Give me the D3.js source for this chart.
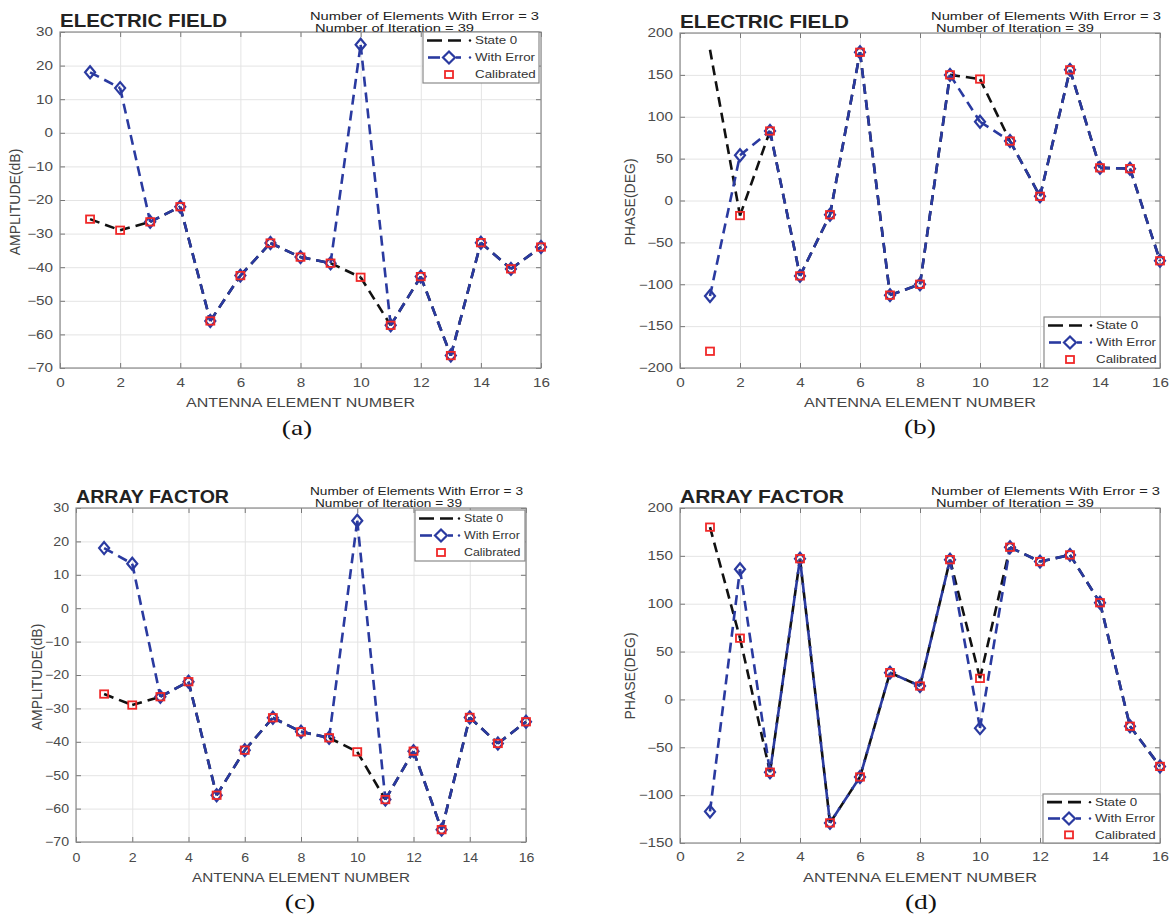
<!DOCTYPE html>
<html>
<head>
<meta charset="utf-8">
<script src="https://cdn.jsdelivr.net/npm/d3@7"></script>
<style>
  body { margin: 0; background: #fff; }
  svg text { font-family: "Liberation Sans", Arial, sans-serif; }
</style>
</head>
<body>
<div id="chart"></div>
<script>
// Antenna element numbers (x values)
const elementNumbers = [1, 2, 3, 4, 5, 6, 7, 8, 9, 10, 11, 12, 13, 14, 15, 16];

// (a) Electric field amplitude (dB)
const efAmpState0 = [-25.7, -29, -26.5, -22, -56, -42.5, -32.8, -37, -38.8, -43, -57.3, -42.8, -66.3, -32.7, -40.5, -34];
const efAmpError  = [18, 13.3, -26.5, -22, -56, -42.5, -32.8, -37, -38.8, 26.2, -57.3, -42.8, -66.3, -32.7, -40.5, -34];
const efAmpCalib  = [-25.7, -29, -26.5, -22, -56, -42.5, -32.8, -37, -38.8, -43, -57.3, -42.8, -66.3, -32.7, -40.5, -34];

// (b) Electric field phase (deg)
const efPhaseState0 = [180, -18, 83, -90, -17, 177, -113, -100, 150, 145, 71, 5, 156, 39, 38, -72];
const efPhaseError  = [-114, 54, 83, -90, -17, 177, -113, -100, 150, 94, 71, 5, 156, 39, 38, -72];
const efPhaseCalib  = [-180, -18, 83, -90, -17, 177, -113, -100, 150, 145, 71, 5, 156, 39, 38, -72];

// (c) Array factor amplitude (dB)
const afAmpState0 = [-25.7, -29, -26.5, -22, -56, -42.5, -32.8, -37, -38.8, -43, -57.3, -42.8, -66.3, -32.7, -40.5, -34];
const afAmpError  = [18, 13.3, -26.5, -22, -56, -42.5, -32.8, -37, -38.8, 26.2, -57.3, -42.8, -66.3, -32.7, -40.5, -34];
const afAmpCalib  = [-25.7, -29, -26.5, -22, -56, -42.5, -32.8, -37, -38.8, -43, -57.3, -42.8, -66.3, -32.7, -40.5, -34];

// (d) Array factor phase (deg)
const afPhaseState0 = [180, 64, -76, 147, -129, -81, 28, 14, 146, 22, 159, 144, 151, 101, -28, -70];
const afPhaseError  = [-117, 136, -76, 147, -129, -81, 28, 14, 146, -30, 159, 144, 151, 101, -28, -70];
const afPhaseCalib  = [180, 64, -76, 147, -129, -81, 28, 14, 146, 22, 159, 144, 151, 101, -28, -70];

// Tick values
const xTicks = [0, 2, 4, 6, 8, 10, 12, 14, 16];
const ampTicks = [-70, -60, -50, -40, -30, -20, -10, 0, 10, 20, 30];
const efPhaseTicks = [-200, -150, -100, -50, 0, 50, 100, 150, 200];
const afPhaseTicks = [-150, -100, -50, 0, 50, 100, 150, 200];

const seriesNames = ["State 0", "With Error", "Calibrated"];
const infoLines = ["Number of Elements With Error = 3", "Number of Iteration = 39"];

const blue = "#2a3aa0";
const red = "#f02828";

const svg = d3.select("#chart")
  .append("svg")
  .attr("width", 1171)
  .attr("height", 917);

// the figure is stretched sideways, so widen texts a bit
function widen(sel, k) {
  sel.each(function () {
    const len = this.getComputedTextLength();
    d3.select(this).attr("textLength", len * k).attr("lengthAdjust", "spacingAndGlyphs");
  });
}
function fitTo(sel, w) {
  sel.attr("textLength", w).attr("lengthAdjust", "spacingAndGlyphs");
}

// Panel layout
const panels = [
  { tag: "(a)", title: "ELECTRIC FIELD", ylabel: "AMPLITUDE(dB)",
    s0: efAmpState0, err: efAmpError, cal: efAmpCalib, yDomain: [-70, 30], yTicks: ampTicks,
    left: 60, right: 541, top: 32, bottom: 368, k: 1.27, xPad: 10,
    titleW: 167, titleY: 27, info: [310, 229, 159, 19.5, 32], xlabW: 229, xlabY: 406.5,
    ylab: [15, 202], tagPos: [297, 435],
    legend: { x: 423, y: 32, w: 116, h: 51 }, mixSegs: [] },
  { tag: "(b)", title: "ELECTRIC FIELD", ylabel: "PHASE(DEG)",
    s0: efPhaseState0, err: efPhaseError, cal: efPhaseCalib, yDomain: [-200, 200], yTicks: efPhaseTicks,
    left: 680, right: 1160, top: 33, bottom: 368, k: 1.27, xPad: 10,
    titleW: 169, titleY: 27.5, info: [931, 230, 158, 19.5, 32], xlabW: 232, xlabY: 406.5,
    ylab: [630, 202], tagPos: [920, 434],
    legend: { x: 1044, y: 317, w: 116, h: 51 }, mixSegs: [] },
  { tag: "(c)", title: "ARRAY FACTOR", ylabel: "AMPLITUDE(dB)",
    s0: afAmpState0, err: afAmpError, cal: afAmpCalib, yDomain: [-70, 30], yTicks: ampTicks,
    left: 76, right: 526, top: 508, bottom: 842, k: 1.18, xPad: 11,
    titleW: 153, titleY: 503, info: [310, 213, 147, 494.5, 507], xlabW: 218, xlabY: 881.5,
    ylab: [37, 677], tagPos: [300, 909],
    legend: { x: 415, y: 510, w: 110, h: 51 }, mixSegs: [] },
  { tag: "(d)", title: "ARRAY FACTOR", ylabel: "PHASE(DEG)",
    s0: afPhaseState0, err: afPhaseError, cal: afPhaseCalib, yDomain: [-150, 200], yTicks: afPhaseTicks,
    left: 680, right: 1160, top: 508, bottom: 843, k: 1.27, xPad: 9.5,
    titleW: 164, titleY: 503, info: [931, 229, 158, 494.5, 507], xlabW: 234, xlabY: 881.5,
    ylab: [630, 676], tagPos: [921, 909],
    legend: { x: 1043, y: 794, w: 117, h: 49 }, mixSegs: [3, 4, 5, 6, 7, 8] }
];

const diamond = "M0,-6L5,0L0,6L-5,0Z";

panels.forEach(p => {
  const x = d3.scaleLinear().domain([0, 16]).range([p.left, p.right]);
  const y = d3.scaleLinear().domain(p.yDomain).range([p.bottom, p.top]);
  const w = p.right - p.left;
  const h = p.bottom - p.top;
  const g = svg.append("g");

  // Grid lines
  g.append("g")
    .attr("transform", `translate(0,${p.bottom})`)
    .call(d3.axisBottom(x).tickValues(xTicks).tickSize(-h).tickFormat(""))
    .call(s => s.select(".domain").remove())
    .call(s => s.selectAll("line").attr("stroke", "#e4e4e4"));
  g.append("g")
    .attr("transform", `translate(${p.left},0)`)
    .call(d3.axisLeft(y).tickValues(p.yTicks).tickSize(-w).tickFormat(""))
    .call(s => s.select(".domain").remove())
    .call(s => s.selectAll("line").attr("stroke", "#e4e4e4"));

  // Axes with inner ticks on all four sides
  const xAxis = g.append("g")
    .attr("transform", `translate(0,${p.bottom})`)
    .call(d3.axisBottom(x).tickValues(xTicks).tickSizeInner(-5).tickSizeOuter(0).tickPadding(p.xPad));
  const yAxis = g.append("g")
    .attr("transform", `translate(${p.left},0)`)
    .call(d3.axisLeft(y).tickValues(p.yTicks).tickSizeInner(-5).tickSizeOuter(0).tickPadding(7));
  const topAxis = g.append("g")
    .attr("transform", `translate(0,${p.top})`)
    .call(d3.axisTop(x).tickValues(xTicks).tickSizeInner(-5).tickSizeOuter(0).tickFormat(""));
  const rightAxis = g.append("g")
    .attr("transform", `translate(${p.right},0)`)
    .call(d3.axisRight(y).tickValues(p.yTicks).tickSizeInner(-5).tickSizeOuter(0).tickFormat(""));
  [xAxis, yAxis, topAxis, rightAxis].forEach(a => {
    a.select(".domain").remove();
    a.selectAll(".tick line").attr("stroke", "#777");
  });
  [xAxis, yAxis].forEach(a => {
    a.selectAll("text")
      .attr("font-size", "12px").attr("fill", "#4a4a4a")
      .attr("font-family", "Liberation Sans, Arial, sans-serif");
    widen(a.selectAll("text"), p.k);
  });

  // Box
  g.append("rect")
    .attr("x", p.left).attr("y", p.top).attr("width", w).attr("height", h)
    .attr("fill", "none").attr("stroke", "#8a8a8a").attr("stroke-width", 1.2);

  // Lines drawn segment by segment, like separate dash phases
  const segs = arr => arr.slice(1).map((v, i) => ({ i: i, x1: x(elementNumbers[i]), y1: y(arr[i]), x2: x(elementNumbers[i + 1]), y2: y(v) }));

  g.selectAll(".s0seg")
    .data(segs(p.s0))
    .enter()
    .append("line")
    .attr("x1", d => d.x1).attr("y1", d => d.y1).attr("x2", d => d.x2).attr("y2", d => d.y2)
    .attr("stroke", "#111").attr("stroke-width", 2.6)
    .attr("stroke-dasharray", "10,6");

  g.selectAll(".errseg")
    .data(segs(p.err))
    .enter()
    .append("line")
    .attr("x1", d => d.x1).attr("y1", d => d.y1).attr("x2", d => d.x2).attr("y2", d => d.y2)
    .attr("stroke", blue).attr("stroke-width", 2.6)
    .attr("stroke-dasharray", "10,6")
    .attr("stroke-dashoffset", d => p.mixSegs.includes(d.i + 1) ? 8 : 0);

  // With Error diamonds
  g.selectAll(".dia")
    .data(p.err)
    .enter()
    .append("path")
    .attr("d", diamond)
    .attr("transform", (d, i) => `translate(${x(elementNumbers[i])},${y(d)})`)
    .attr("fill", "none").attr("stroke", blue).attr("stroke-width", 2.2);

  // Calibrated squares
  g.selectAll(".sq")
    .data(p.cal)
    .enter()
    .append("rect")
    .attr("x", (d, i) => x(elementNumbers[i]) - 4)
    .attr("y", d => y(d) - 3.7)
    .attr("width", 8).attr("height", 7.4)
    .attr("fill", "none").attr("stroke", red).attr("stroke-width", 1.8);

  // Title
  g.append("text")
    .attr("x", p.left).attr("y", p.titleY)
    .attr("font-size", "17.5px").attr("font-weight", "bold").attr("fill", "#222")
    .text(p.title)
    .call(fitTo, p.titleW);

  // Info text
  g.append("text")
    .attr("x", p.info[0]).attr("y", p.info[3])
    .attr("font-size", "11px").attr("fill", "#222")
    .text(infoLines[0])
    .call(fitTo, p.info[1]);
  g.append("text")
    .attr("x", p.info[0] + 5).attr("y", p.info[4])
    .attr("font-size", "11px").attr("fill", "#222")
    .text(infoLines[1])
    .call(fitTo, p.info[2]);

  // Axis labels
  g.append("text")
    .attr("transform", `translate(${p.ylab[0]},${p.ylab[1]}) rotate(-90)`)
    .attr("text-anchor", "middle").attr("dy", "0.35em")
    .attr("font-size", "14px").attr("fill", "#444")
    .text(p.ylabel);
  g.append("text")
    .attr("x", (p.left + p.right) / 2).attr("y", p.xlabY)
    .attr("text-anchor", "middle")
    .attr("font-size", "12.5px").attr("fill", "#444")
    .text("ANTENNA ELEMENT NUMBER")
    .call(fitTo, p.xlabW);
  g.append("text")
    .attr("x", p.tagPos[0]).attr("y", p.tagPos[1])
    .attr("text-anchor", "middle")
    .attr("font-size", "22px").attr("fill", "#111")
    .style("font-family", "'Liberation Serif', 'Times New Roman', serif")
    .text(p.tag)
    .call(widen, 1.25);

  // Legend
  const L = p.legend;
  const lg = g.append("g").attr("transform", `translate(${L.x},${L.y})`);
  lg.append("rect")
    .attr("width", L.w).attr("height", L.h)
    .attr("fill", "#fff").attr("stroke", "#8a8a8a").attr("stroke-width", 1.2);
  const rowH = L.h / 3;
  const tx = L.w > 112 ? 52 : 49;
  seriesNames.forEach((name, i) => {
    const ry = rowH * (i + 0.5);
    if (i === 0) {
      lg.append("line")
        .attr("x1", 4).attr("x2", 38).attr("y1", ry).attr("y2", ry)
        .attr("stroke", "#111").attr("stroke-width", 2.6)
        .attr("stroke-dasharray", "15,6");
    }
    if (i === 1) {
      lg.append("line")
        .attr("x1", 5).attr("x2", 38).attr("y1", ry).attr("y2", ry)
        .attr("stroke", blue).attr("stroke-width", 2.6)
        .attr("stroke-dasharray", "12,40");
      lg.append("line")
        .attr("x1", 33).attr("x2", 38).attr("y1", ry).attr("y2", ry)
        .attr("stroke", blue).attr("stroke-width", 2.6);
      lg.append("path").attr("d", "M0,-6L6,0L0,6L-6,0Z")
        .attr("transform", `translate(26,${ry})`)
        .attr("fill", "#fff").attr("stroke", blue).attr("stroke-width", 2.2);
    }
    if (i < 2) {
      lg.append("circle")
        .attr("cx", tx - 5).attr("cy", ry).attr("r", 1.2)
        .attr("fill", i === 0 ? "#111" : blue);
    }
    if (i === 2) {
      lg.append("rect")
        .attr("x", 22).attr("y", ry - 3.5).attr("width", 8).attr("height", 7)
        .attr("fill", "none").attr("stroke", red).attr("stroke-width", 1.8);
    }
    lg.append("text")
      .attr("x", tx).attr("y", ry).attr("dy", "0.36em")
      .attr("font-size", "10.5px").attr("fill", "#333")
      .text(name)
      .call(widen, p.k);
  });
});
</script>
</body>
</html>
